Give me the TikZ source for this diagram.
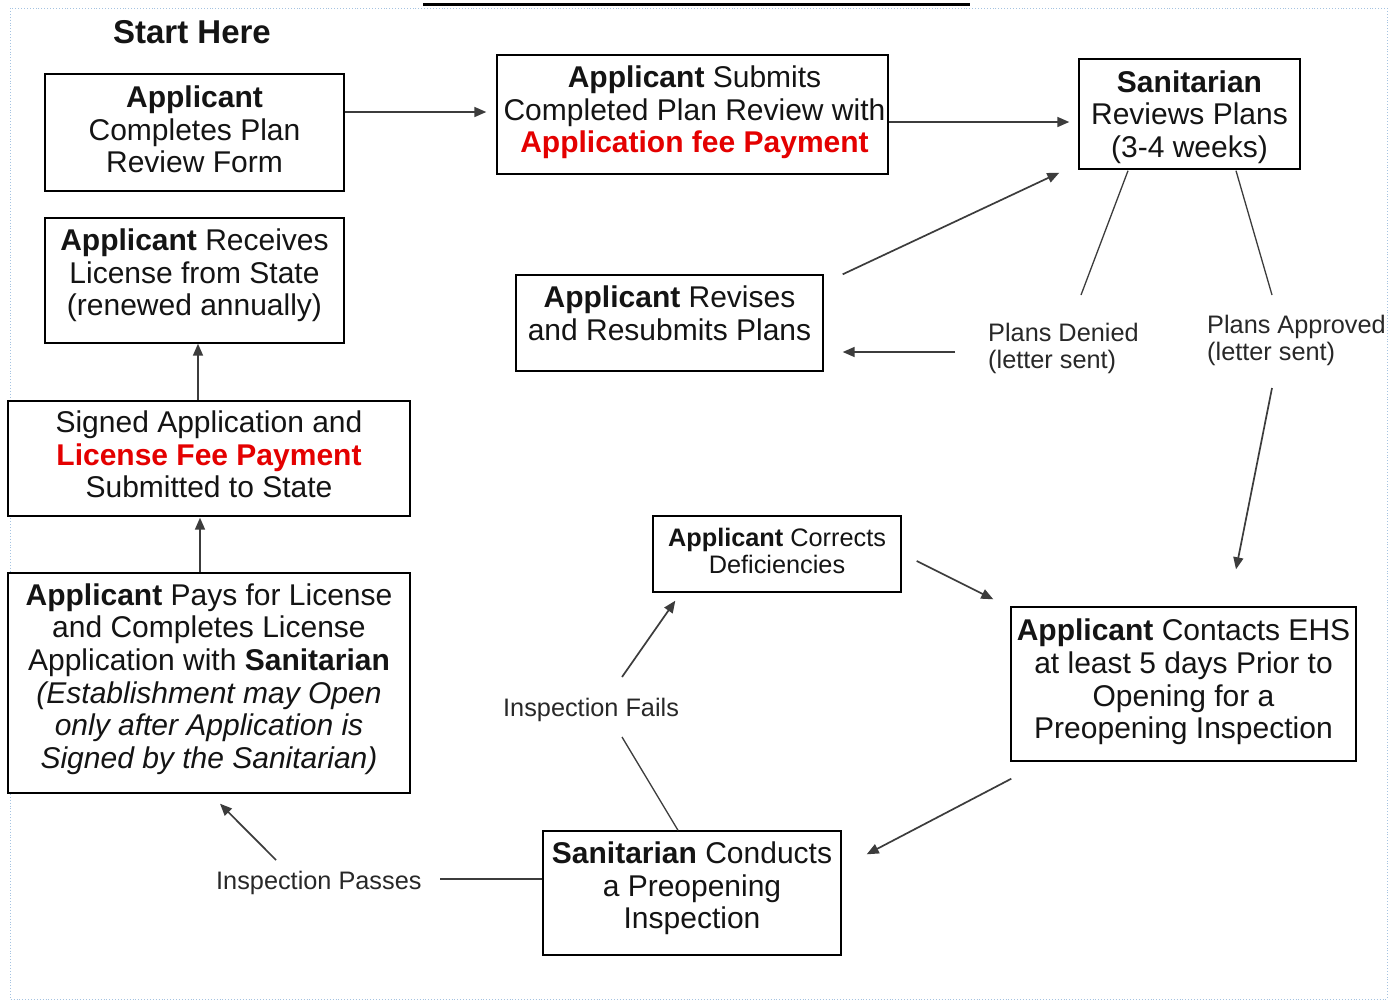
\documentclass[tikz,border=0pt]{standalone}
\usepackage{fontspec}
\setmainfont{Liberation Sans}
\usetikzlibrary{arrows.meta,calc}
\definecolor{myred}{RGB}{228,0,0}
\definecolor{ink}{RGB}{20,20,20}
\definecolor{bord}{RGB}{165,195,225}
\definecolor{conn}{RGB}{60,60,60}
\begin{document}
\begin{tikzpicture}[x=1pt,y=-1pt,
  box/.style={draw=black, line width=1.4pt, fill=white, inner sep=0pt},
  btext/.style={inner sep=0pt, align=center, text=ink, font=\fontsize{30}{32.6}\selectfont},
  stext/.style={btext, font=\fontsize{25.3}{27}\selectfont},
  lbl/.style={inner sep=0pt, align=left, text={rgb,255:red,40;green,40;blue,40}, font=\fontsize{25.3}{27}\selectfont},
  arr/.style={draw=conn, line width=1.7pt, -{Triangle[length=12pt,width=10pt]}},
  ln/.style={draw=conn, line width=1.3pt}]
\useasboundingbox (0,0) rectangle (1395,1002);
\fill[white] (0,0) rectangle (1395,1002);
\draw[bord, dotted, line width=0.9pt] (10,8) rectangle (1387,999);
\draw[line width=3pt] (423,4.5) -- (970,4.5);

\node[inner sep=0pt, font=\fontsize{33}{36}\selectfont\bfseries, text=ink] (start) at (192,32) {Start Here};

\node[box, minimum width=299pt, minimum height=117pt] (b1) at (194.5,132.5) {};
\node[btext] (b1t) at ($(b1)+(0,-3)$) {\textbf{Applicant}\\Completes Plan\\Review Form};
\node[box, minimum width=391pt, minimum height=119pt] (b2) at (692.5,114.5) {};
\node[btext] (b2t) at ($(b2)+(2,-2)$) {\textbf{Applicant} Submits\\Completed Plan Review with\\\textcolor{myred}{\textbf{Application fee Payment}}};
\node[box, minimum width=221pt, minimum height=110pt] (b3) at (1189.5,114) {};
\node[btext] (b3t) at ($(b3)+(0,3)$) {\textbf{Sanitarian}\\Reviews Plans\\(3-4 weeks)};
\node[box, minimum width=307pt, minimum height=96pt] (rev) at (669.5,323) {};
\node[btext] (revt) at ($(rev)+(0,-10)$) {\textbf{Applicant} Revises\\and Resubmits Plans};
\node[box, minimum width=299pt, minimum height=125pt] (recv) at (194.5,280.5) {};
\node[btext] (recvt) at ($(recv)+(0,-5)$) {\textbf{Applicant} Receives\\License from State\\(renewed annually)};
\node[box, minimum width=402pt, minimum height=115pt] (sign) at (209,458.5) {};
\node[btext] (signt) at ($(sign)+(0,-4)$) {Signed Application and\\\textcolor{myred}{\textbf{License Fee Payment}}\\Submitted to State};
\node[box, minimum width=402pt, minimum height=220pt] (pays) at (209,683) {};
\node[btext] (payst) at ($(pays)+(0,-4)$) {\textbf{Applicant} Pays for License\\and Completes License\\Application with \textbf{Sanitarian}\\
   {\itshape (Establishment may Open}\\{\itshape only after Application is}\\{\itshape Signed by the Sanitarian)}};
\node[box, minimum width=248pt, minimum height=76pt] (corr) at (777,554) {};
\node[stext] (corrt) at ($(corr)+(0,-3)$) {\textbf{Applicant} Corrects\\Deficiencies};
\node[box, minimum width=345pt, minimum height=154pt] (cont) at (1183.5,684) {};
\node[btext] (contt) at ($(cont)+(0,-2)$) {\textbf{Applicant} Contacts EHS\\at least 5 days Prior to\\Opening for a\\Preopening Inspection};
\node[box, minimum width=298pt, minimum height=124pt] (cond) at (692,893) {};
\node[btext] (condt) at ($(cond)+(0,-4.5)$) {\textbf{Sanitarian} Conducts\\a Preopening\\Inspection};

\node[lbl, anchor=west] (den) at (988,348.5) {Plans Denied\\(letter sent)};
\node[lbl, anchor=west] (appr) at (1207,340) {Plans Approved\\(letter sent)};
\node[lbl, anchor=west] (fails) at (503,710) {Inspection Fails};
\node[lbl, anchor=west] (pass) at (216,883) {Inspection Passes};

\coordinate (dtop) at (1081,295);
\coordinate (dleft) at (955,352);
\coordinate (atop) at (1272,295);
\coordinate (abot) at (1272,388);
\coordinate (fbot) at (622,737);
\coordinate (ftop) at (622,677);
\coordinate (pright) at (440,879);
\coordinate (pleft) at (276,860);

\draw[arr] ($(b1.east)+(0,-20.5)$) -- ($(b2.west)+(-10,-2.5)$);
\draw[arr] ($(b2.east)+(0,7.5)$) -- ($(b3.west)+(-9,8)$);
\draw[arr] ($(rev.north east)+(19,0)$) -- ($(b3.south west)+(-19,3)$);
\draw[ln] ($(b3.south)+(-61.5,1)$) -- (dtop);
\draw[arr] (dleft) -- ($(rev.east)+(19,29)$);
\draw[ln] ($(b3.south)+(46.5,1)$) -- (atop);
\draw[arr] (abot) -- ($(cont.north)+(52.5,-37)$);
\draw[arr] ($(cont.south west)+(1,17)$) -- ($(cond.north east)+(25,24)$);
\draw[ln] ($(cond.north)+(-14,0)$) -- (fbot);
\draw[arr] (ftop) -- ($(corr.south west)+(23,8)$);
\draw[arr] ($(corr.east)+(15,7)$) -- ($(cont.north west)+(-17,-7)$);
\draw[ln] ($(cond.west)+(0,-14)$) -- (pright);
\draw[arr] (pleft) -- ($(pays.south)+(11,10)$);
\draw[arr] ($(pays.north)+(-9,0)$) -- ($(sign.south)+(-9,1)$);
\draw[arr] ($(sign.north)+(-11,0)$) -- ($(recv.south)+(3.5,0)$);
\end{tikzpicture}
\end{document}
